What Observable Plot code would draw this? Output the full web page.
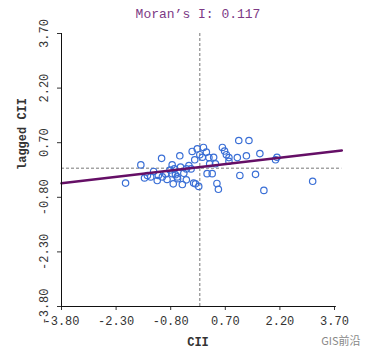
<!DOCTYPE html>
<html>
<head>
<meta charset="utf-8">
<script src="https://cdn.jsdelivr.net/npm/d3@7"></script>
<script src="https://cdn.jsdelivr.net/npm/@observablehq/plot@0.6"></script>
<style>
  html, body { margin: 0; padding: 0; background: #fff; }
</style>
</head>
<body>
<div id="chart"></div>
<script>
// Data
const cii = [-2.04,-1.62,-1.52,-1.35,-1.27,-1.17,-1.05,-1.03,-0.94,-0.90,-0.82,-0.76,-0.73,-0.67,-0.61,-0.55,-0.53,-0.48,-0.44,-0.37,-0.30,-0.21,-0.17,-0.14,-0.03,0.00,0.10,0.18,0.20,0.25,0.34,0.38,0.43,0.47,0.51,0.62,0.68,0.73,0.80,0.80,1.03,1.07,1.10,1.28,1.35,1.53,1.65,1.76,2.08,2.12,3.10,-0.70,-0.76,-0.62,-0.37,-0.24,-0.07,0.07,0.27,-0.12,-1.44,-1.14];
const laggedCii = [-0.41,0.09,-0.27,-0.24,-0.09,-0.34,0.27,-0.24,-0.16,-0.31,-0.05,0.09,-0.43,-0.18,-0.29,0.34,0.03,-0.45,-0.14,-0.32,0.07,0.46,-0.41,0.23,-0.50,0.37,0.57,0.44,-0.15,0.29,-0.15,0.30,0.12,-0.42,-0.58,0.57,0.47,0.37,0.29,0.19,0.29,0.76,-0.20,0.34,0.76,-0.17,0.40,-0.61,0.23,0.30,-0.36,-0.02,-0.15,-0.24,-0.02,-0.02,0.53,0.30,0.12,-0.43,-0.20,-0.20];
const xTicks = [-3.8, -2.3, -0.8, 0.7, 2.2, 3.7];
const yTicks = [-3.8, -2.3, -0.8, 0.7, 2.2, 3.7];
const moranI = 0.117;
const intercept = 0.03;
const lineExtent = [-3.8, 3.9];
const titleText = "Moran’s I: 0.117";
const xLabel = "CII";
const yLabel = "lagged CII";

const points = cii.map((x, i) => ({x, y: laggedCii[i]}));
const fitLine = lineExtent.map(x => ({x, y: intercept + moranI * x}));
const fmt = d => d.toFixed(2);
const mono = "'Liberation Mono', 'DejaVu Sans Mono', monospace";

const chart = Plot.plot({
  width: 371,
  height: 360,
  marginLeft: 61,
  marginRight: 37,
  marginTop: 33,
  marginBottom: 54,
  style: {fontFamily: mono, fontSize: "12px", background: "#fff", color: "#333"},
  x: {domain: [-3.8, 3.7]},
  y: {domain: [-3.8, 3.7]},
  marks: [
    Plot.ruleX([0], {y1: -3.8, y2: 3.75, stroke: "#777", strokeDasharray: "3,2", strokeWidth: 1}),
    Plot.ruleY([0], {x1: -3.8, x2: 3.9, stroke: "#777", strokeDasharray: "3,2", strokeWidth: 1}),
    Plot.dot(points, {x: "x", y: "y", r: 3.2, stroke: "#3a6fd6", strokeWidth: 1.2, fill: "none"}),
    Plot.line(fitLine, {x: "x", y: "y", stroke: "#650f66", strokeWidth: 2.6}),
    Plot.axisX({ticks: xTicks, tickFormat: fmt, tickSize: 4, tickPadding: 6, label: null, fill: "#333"}),
    Plot.axisY({ticks: yTicks, tickFormat: fmt, tickSize: 4, tickPadding: 10, tickRotate: -90, label: null, fill: "#333"}),
    Plot.ruleY([-3.8], {x1: -3.8, x2: 3.75, stroke: "#111"}),
    Plot.ruleX([-3.8], {y1: -3.8, y2: 3.7, stroke: "#111"}),
    Plot.text([titleText], {text: d => d, frameAnchor: "top", dy: -25, fill: "#7d3a86", fontSize: 13}),
    Plot.text([xLabel], {text: d => d, frameAnchor: "bottom", dy: 39, fill: "#333", fontSize: 12, fontWeight: "bold"}),
    Plot.text([yLabel], {text: d => d, frameAnchor: "left", dx: -39, rotate: -90, fill: "#333", fontSize: 12, fontWeight: "bold"}),
    Plot.text(["GIS前沿"], {text: d => d, frameAnchor: "bottom-right", dx: 26, dy: 38, textAnchor: "end", fill: "#888", fontSize: 11, fontFamily: "'Noto Sans CJK SC', sans-serif"})
  ]
});
document.getElementById("chart").appendChild(chart);
</script>
</body>
</html>
